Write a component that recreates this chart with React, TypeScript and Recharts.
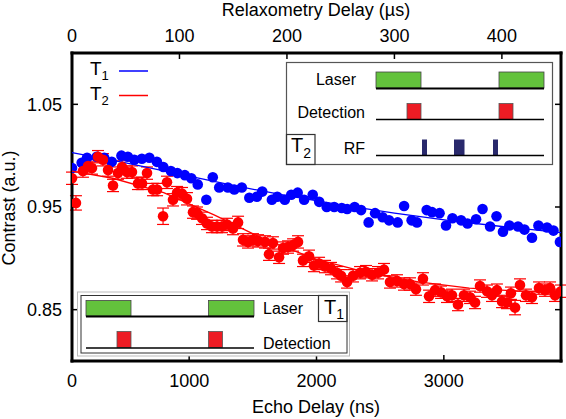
import { ComposedChart, ErrorBar, Scatter, XAxis, YAxis } from "recharts";

// T1: relaxometry delay (µs) vs contrast
const blueDelay = [
  0, 9, 14, 23, 30, 37, 46, 52, 58, 65, 72, 79, 85, 92, 98, 105, 111, 117, 125, 131,
  137, 145, 151, 158, 165, 172, 177, 186, 191, 198, 204, 210, 216, 224, 230, 237, 244, 251, 256, 263,
  269, 276, 282, 289, 295, 303, 309, 316, 321, 330, 335, 342, 348, 354, 362, 368, 376, 382, 389, 395,
  401, 407, 415, 421, 428, 434, 442, 448, 454,
];
const blueContrast = [
  0.988, 0.993, 0.998, 0.999, 0.998, 0.994, 1.0, 0.999, 0.996, 0.997, 0.998, 0.994, 0.989, 0.985, 0.983, 0.981, 0.978, 0.972, 0.957, 0.979,
  0.969, 0.969, 0.967, 0.969, 0.959, 0.96, 0.965, 0.957, 0.96, 0.957, 0.962, 0.964, 0.957, 0.962, 0.955, 0.95, 0.95, 0.949, 0.948, 0.95,
  0.947, 0.935, 0.944, 0.94, 0.937, 0.935, 0.951, 0.937, 0.935, 0.947, 0.945, 0.944, 0.932, 0.939, 0.937, 0.934, 0.938, 0.948, 0.931, 0.941,
  0.926, 0.932, 0.931, 0.928, 0.92, 0.932, 0.93, 0.927, 0.916,
];
const blueFitDelay = [0, 50, 100, 150, 200, 250, 300, 350, 400, 455];
const blueFitContrast = [1.003, 0.993, 0.982, 0.971, 0.961, 0.952, 0.944, 0.937, 0.931, 0.925];

// T2: echo delay (ns) vs contrast
const redDelay = [
  80, 111, 166, 206, 237, 284, 323, 363, 402, 441, 473, 512, 551, 598, 630, 669, 716, 748, 795, 826,
  873, 905, 944, 983, 1030, 1062, 1101, 1140, 1179, 1219, 1258, 1297, 1344, 1384, 1423, 1462, 1501, 1541, 1596, 1627,
  1658, 1706, 1737, 1776, 1816, 1855, 1894, 1941, 1980, 2020, 2067, 2114, 2161, 2193, 2240, 2287, 2342, 2389, 2436, 2483,
  2530, 2577, 2632, 2687, 2734, 2781, 2836, 2884, 2931, 2978, 3025, 3064, 3111, 3158, 3206, 3245, 3284, 3339, 3378, 3417,
  3457, 3496, 3527, 3559, 3598, 3645, 3692, 3747, 3794, 3834, 3873, 3920,
];
const redContrast = [
  0.978, 0.954, 0.985, 0.99, 0.988, 0.999, 0.996, 0.986, 0.971, 0.983, 0.989, 0.984, 0.984, 0.973, 0.973, 0.983, 0.967, 0.967, 0.941, 0.974,
  0.957, 0.964, 0.963, 0.958, 0.945, 0.944, 0.939, 0.934, 0.931, 0.931, 0.931, 0.933, 0.929, 0.935, 0.918, 0.916, 0.918, 0.917, 0.916, 0.904,
  0.915, 0.901, 0.91, 0.911, 0.913, 0.916, 0.898, 0.902, 0.893, 0.895, 0.892, 0.89, 0.886, 0.883, 0.877, 0.883, 0.886, 0.887, 0.884, 0.886,
  0.889, 0.877, 0.878, 0.875, 0.875, 0.87, 0.88, 0.863, 0.869, 0.867, 0.863, 0.864, 0.855, 0.864, 0.862, 0.857, 0.873, 0.868, 0.864, 0.869,
  0.858, 0.857, 0.866, 0.852, 0.874, 0.864, 0.862, 0.871, 0.869, 0.871, 0.864, 0.868,
];
const redError = [
  0.006, 0.007, 0.006, 0.006, 0.006, 0.006, 0.006, 0.006, 0.006, 0.006, 0.006, 0.006, 0.006, 0.006, 0.006, 0.006, 0.006, 0.006, 0.008, 0.006,
  0.006, 0.006, 0.006, 0.006, 0.006, 0.006, 0.006, 0.006, 0.006, 0.006, 0.006, 0.006, 0.006, 0.006, 0.006, 0.006, 0.006, 0.006, 0.006, 0.006,
  0.006, 0.006, 0.006, 0.006, 0.006, 0.006, 0.006, 0.006, 0.006, 0.006, 0.006, 0.006, 0.006, 0.006, 0.006, 0.006, 0.006, 0.006, 0.006, 0.006,
  0.006, 0.006, 0.006, 0.006, 0.006, 0.006, 0.006, 0.006, 0.006, 0.006, 0.006, 0.006, 0.006, 0.006, 0.006, 0.006, 0.006, 0.006, 0.006, 0.006,
  0.006, 0.006, 0.006, 0.007, 0.006, 0.006, 0.006, 0.006, 0.006, 0.006, 0.006, 0.006,
];
const redFitDelay = [80, 400, 800, 1200, 1600, 2000, 2400, 2800, 3200, 3600, 3920];
const redFitContrast = [0.985, 0.978, 0.964, 0.942, 0.918, 0.899, 0.886, 0.877, 0.871, 0.868, 0.866];

const topTicks = [0, 100, 200, 300, 400];
const bottomTicks = [80, 1000, 2000, 3000];
const bottomLabels = ["0", "1000", "2000", "3000"];
const yTicks = [0.85, 0.95, 1.05];

const FONT = "'Liberation Sans', Arial, Helvetica, sans-serif";
const BLUE = "#0000ff";
const RED = "#ff0000";
const GREEN = "#63c23c";
const PULSE_RED = "#ed1c24";
const NAVY = "#29296c";

const blueData = blueDelay.map((x, i) => ({ x, y: blueContrast[i] }));
const blueFit = blueFitDelay.map((x, i) => ({ x, y: blueFitContrast[i] }));
const redData = redDelay.map((x, i) => ({ x, y: redContrast[i], e: redError[i] }));
const redFit = redFitDelay.map((x, i) => ({ x, y: redFitContrast[i] }));

const tickStyle = { fill: "#000", fontSize: 18, fontFamily: FONT };
const frame = { stroke: "#000", strokeWidth: 3, strokeLinecap: "square" as const };
const tickLine = { stroke: "#000", strokeWidth: 1.5 };

const dot = (color: string) => (p: any) => <circle cx={p.cx} cy={p.cy} r={5.3} fill={color} />;
const noDot = () => <g />;

function Overlay() {
  const t = { fontFamily: FONT, fill: "#000" };
  return (
    <svg width={566} height={419} style={{ position: "absolute", left: 0, top: 0, pointerEvents: "none" }}>
      {/* axis titles */}
      <text x={316} y={16} textAnchor="middle" fontSize={18} {...t}>Relaxometry Delay (µs)</text>
      <text x={316} y={413} textAnchor="middle" fontSize={18} {...t}>Echo Delay (ns)</text>
      <text x={15} y={208} textAnchor="middle" fontSize={18} transform="rotate(-90 15 208)" {...t}>Contrast (a.u.)</text>

      {/* legend */}
      <text x={90} y={75} fontSize={19} {...t}>T<tspan fontSize={13} dy={5}>1</tspan></text>
      <line x1={119} x2={148} y1={71} y2={71} stroke={BLUE} strokeWidth={1.5} />
      <text x={90} y={100} fontSize={19} {...t}>T<tspan fontSize={13} dy={5}>2</tspan></text>
      <line x1={119} x2={148} y1={95.5} y2={95.5} stroke={RED} strokeWidth={1.5} />

      {/* T2 pulse sequence */}
      <rect x={286.5} y={62.5} width={266} height={102} fill="#fff" stroke="#555" strokeWidth={1.2} />
      <rect x={286.5} y={134.5} width={28.5} height={30} fill="none" stroke="#333" strokeWidth={1.2} />
      <text x={291} y={152} fontSize={20} {...t}>T<tspan fontSize={14} dy={6}>2</tspan></text>
      <text x={356} y={79} textAnchor="end" dominantBaseline="central" fontSize={16} {...t}>Laser</text>
      <rect x={376} y={72} width={45} height={16} fill={GREEN} stroke="#444" strokeWidth={0.8} />
      <rect x={499} y={72} width={45} height={16} fill={GREEN} stroke="#444" strokeWidth={0.8} />
      <line x1={376} x2={544} y1={88.5} y2={88.5} stroke="#000" strokeWidth={2} />
      <text x={365} y={112} textAnchor="end" dominantBaseline="central" fontSize={16} {...t}>Detection</text>
      <rect x={407} y={103.5} width={14} height={16} fill={PULSE_RED} stroke="#555" strokeWidth={0.8} />
      <rect x={499} y={103.5} width={14} height={16} fill={PULSE_RED} stroke="#555" strokeWidth={0.8} />
      <line x1={376} x2={544} y1={119.5} y2={119.5} stroke="#000" strokeWidth={1.5} />
      <text x={365} y={148} textAnchor="end" dominantBaseline="central" fontSize={16} {...t}>RF</text>
      <rect x={422} y={139.5} width={5} height={15.5} fill={NAVY} />
      <rect x={454} y={139.5} width={10.5} height={15.5} fill={NAVY} />
      <rect x={493} y={139.5} width={5} height={15.5} fill={NAVY} />
      <line x1={376} x2={544} y1={155.5} y2={155.5} stroke="#000" strokeWidth={1.5} />

      {/* T1 pulse sequence */}
      <rect x={77.5} y={292} width={272} height={64} fill="#fff" stroke="#bbb" strokeWidth={1} />
      <rect x={81} y={295.5} width={266} height={57.5} fill="#fff" stroke="#333" strokeWidth={1} />
      <rect x={86} y={300.5} width={45} height={15.5} fill={GREEN} stroke="#444" strokeWidth={0.8} />
      <rect x={208.5} y={300.5} width={45.5} height={15.5} fill={GREEN} stroke="#444" strokeWidth={0.8} />
      <line x1={86} x2={254} y1={316.5} y2={316.5} stroke="#000" strokeWidth={2} />
      <text x={263} y={308} dominantBaseline="central" fontSize={16} {...t}>Laser</text>
      <rect x={117} y={331.5} width={14} height={16} fill={PULSE_RED} stroke="#555" strokeWidth={0.8} />
      <rect x={208.5} y={331.5} width={14} height={16} fill={PULSE_RED} stroke="#555" strokeWidth={0.8} />
      <line x1={86} x2={254} y1={348} y2={348} stroke="#000" strokeWidth={1.5} />
      <text x={263} y={343} dominantBaseline="central" fontSize={16} {...t}>Detection</text>
      <rect x={318.5} y={295.5} width={28.5} height={26} fill="none" stroke="#333" strokeWidth={1.2} />
      <text x={324} y={313.5} fontSize={20} {...t}>T<tspan fontSize={14} dy={5}>1</tspan></text>
    </svg>
  );
}

export default function App() {
  return (
    <div style={{ position: "absolute", left: 0, top: 0, width: 566, height: 419, background: "#fff" }}>
      <ComposedChart width={566} height={419} margin={{ top: 0, right: 0, bottom: 0, left: 0 }}>
        <XAxis
          xAxisId="top"
          orientation="top"
          type="number"
          dataKey="x"
          domain={[0, 455]}
          ticks={topTicks}
          interval={0}
          allowDataOverflow
          height={53}
          tickSize={-6}
          tickMargin={17}
          tick={tickStyle}
          tickLine={tickLine}
          axisLine={frame}
        />
        <XAxis
          xAxisId="bottom"
          orientation="bottom"
          type="number"
          dataKey="x"
          domain={[80, 3920]}
          ticks={bottomTicks}
          interval={0}
          allowDataOverflow
          height={58}
          tickSize={-6}
          tickMargin={19}
          tick={tickStyle}
          tickFormatter={(v: number) => bottomLabels[bottomTicks.indexOf(v)] ?? String(v)}
          tickLine={tickLine}
          axisLine={frame}
        />
        <YAxis
          yAxisId="left"
          orientation="left"
          type="number"
          dataKey="y"
          domain={[0.8, 1.1]}
          ticks={yTicks}
          interval={0}
          allowDataOverflow
          width={72}
          tickSize={-6}
          tickMargin={16}
          tick={tickStyle}
          tickFormatter={(v: number) => v.toFixed(2)}
          tickLine={tickLine}
          axisLine={frame}
        />
        <YAxis
          yAxisId="right"
          orientation="right"
          type="number"
          dataKey="y"
          domain={[0.8, 1.1]}
          ticks={yTicks}
          interval={0}
          allowDataOverflow
          width={5}
          tickSize={-6}
          tickFormatter={() => ""}
          tickLine={tickLine}
          axisLine={frame}
        />
        <Scatter
          data={blueData}
          xAxisId="top"
          yAxisId="left"
          fill={BLUE}
          shape={dot(BLUE)}
          isAnimationActive={false}
        />
        <Scatter
          data={blueFit}
          xAxisId="top"
          yAxisId="left"
          line={{ stroke: BLUE, strokeWidth: 1.3 }}
          shape={noDot}
          isAnimationActive={false}
        />
        <Scatter
          data={redFit}
          xAxisId="bottom"
          yAxisId="left"
          line={{ stroke: RED, strokeWidth: 1.3 }}
          shape={noDot}
          isAnimationActive={false}
        />
        <Scatter
          data={redData}
          xAxisId="bottom"
          yAxisId="left"
          fill={RED}
          shape={dot(RED)}
          isAnimationActive={false}
        >
          <ErrorBar dataKey="e" direction="y" width={6} stroke={RED} strokeWidth={1.2} />
        </Scatter>
      </ComposedChart>
      <Overlay />
    </div>
  );
}
